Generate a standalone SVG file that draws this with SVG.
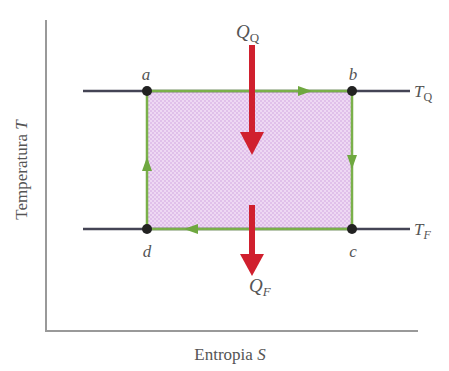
<svg xmlns="http://www.w3.org/2000/svg" width="449" height="371" viewBox="0 0 449 371">
<style>
.lbl{font-family:"Liberation Serif","DejaVu Serif",serif;fill:#555;}
.it{font-style:italic;}
.axis{stroke:#999;stroke-width:2;fill:none;}
.iso{stroke:#445;stroke-width:2.5;fill:none;}
.edge{stroke:#7ab04a;stroke-width:2.5;fill:none;}
.dot{fill:#222;}
.heat{stroke:#d0202e;stroke-width:6;fill:none;}
</style>
<defs>
<pattern id="dots" width="4" height="4" patternUnits="userSpaceOnUse">
<rect width="4" height="4" fill="#eed8f3"/>
<rect width="2" height="2" fill="#e0c0ea"/>
<rect x="2" y="2" width="2" height="2" fill="#e0c0ea"/>
</pattern>
</defs>
<rect x="0" y="0" width="449" height="371" fill="#fff"/>
<g id="axes">
<path class="axis" d="M46,20 V331 H418"/>
</g>
<g id="cycle">
<rect x="147" y="91" width="205" height="138" fill="url(#dots)"/>
</g>
<g id="connectors">
<line class="iso" x1="83" y1="91" x2="410" y2="91"/>
<line class="iso" x1="83" y1="229" x2="410" y2="229"/>
<path class="edge" d="M147,91 H352 V229 H147 Z"/>
<path d="M298,86 L312,91 L298,96 z" fill="#6fa840"/>
<path d="M347,155 L352,169 L357,155 z" fill="#6fa840"/>
<path d="M198,224 L184,229 L198,234 z" fill="#6fa840"/>
<path d="M142,171 L147,157 L152,171 z" fill="#6fa840"/>
<line class="heat" x1="252" y1="45" x2="252" y2="135"/>
<path d="M240,132 L264,132 L252,155 z" fill="#d0202e"/>
<line class="heat" x1="252" y1="205" x2="252" y2="256"/>
<path d="M240,254 L264,254 L252,276 z" fill="#d0202e"/>
</g>
<g id="a"><circle class="dot" cx="147" cy="91" r="5"/><text class="lbl it" x="146" y="80" font-size="17" text-anchor="middle">a</text></g>
<g id="b"><circle class="dot" cx="352" cy="91" r="5"/><text class="lbl it" x="353" y="80" font-size="17" text-anchor="middle">b</text></g>
<g id="c"><circle class="dot" cx="352" cy="229" r="5"/><text class="lbl it" x="353" y="257" font-size="17" text-anchor="middle">c</text></g>
<g id="d"><circle class="dot" cx="147" cy="229" r="5"/><text class="lbl it" x="147" y="257" font-size="17" text-anchor="middle">d</text></g>
<g id="QQ"><text class="lbl it" x="236" y="38" font-size="19">Q<tspan font-size="13" dy="4" font-style="normal">Q</tspan></text></g>
<g id="QF"><text class="lbl it" x="249" y="292" font-size="19">Q<tspan font-size="13" dy="4">F</tspan></text></g>
<g id="TQ"><text class="lbl it" x="414" y="97" font-size="17">T<tspan font-size="12" dy="4" font-style="normal">Q</tspan></text></g>
<g id="TF"><text class="lbl it" x="414" y="235" font-size="17">T<tspan font-size="12" dy="4">F</tspan></text></g>
<g id="ylabel"><text class="lbl" transform="translate(27,170) rotate(-90)" font-size="17" text-anchor="middle">Temperatura <tspan font-style="italic">T</tspan></text></g>
<g id="xlabel"><text class="lbl" x="230" y="360" font-size="17" text-anchor="middle">Entropia <tspan font-style="italic">S</tspan></text></g>
</svg>
